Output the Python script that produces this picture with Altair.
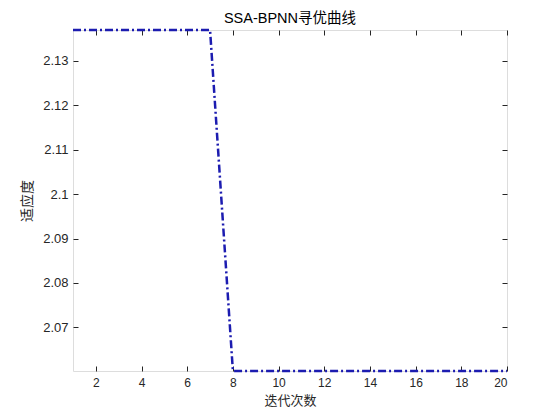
import altair as alt
import pandas as pd

iterations = [1, 2, 3, 4, 5, 6, 7, 8, 9, 10, 11, 12, 13, 14, 15, 16, 17, 18, 19, 20]
fitness = [2.1369, 2.1369, 2.1369, 2.1369, 2.1369, 2.1369, 2.1369,
           2.0602, 2.0602, 2.0602, 2.0602, 2.0602, 2.0602, 2.0602,
           2.0602, 2.0602, 2.0602, 2.0602, 2.0602, 2.0602]
x_ticks = [2, 4, 6, 8, 10, 12, 14, 16, 18, 20]
y_ticks = [2.07, 2.08, 2.09, 2.10, 2.11, 2.12, 2.13]
x_domain = [1, 20]
y_domain = [2.0602, 2.1369]

df = pd.DataFrame({"iter": iterations, "fit": fitness})

W, H = 434, 341
TXT = "#262626"
LATIN = "Liberation Sans, Arial, Noto Sans CJK SC"
CJK = "Noto Sans CJK SC"

xs = alt.Scale(domain=x_domain, nice=False, zero=False)
ys = alt.Scale(domain=y_domain, nice=False, zero=False)

line = alt.Chart(df).mark_line(
    color="#1c1cb0", strokeWidth=2.5, strokeDash=[8, 3, 2, 3]
).encode(
    x=alt.X("iter:Q", scale=xs, axis=alt.Axis(
        orient="bottom", values=x_ticks, tickSize=0, grid=False, domain=False,
        labelFont=LATIN, labelFontSize=12, labelColor=TXT, labelPadding=6,
        title="迭代次数", titleFont=CJK, titleFontSize=13, titleFontWeight="normal",
        titleColor=TXT, titlePadding=6)),
    y=alt.Y("fit:Q", scale=ys, axis=alt.Axis(
        orient="left", values=y_ticks, format="~g", tickSize=0, grid=False, domain=False,
        labelFont=LATIN, labelFontSize=13, labelColor=TXT, labelPadding=5,
        title="适应度", titleFont=CJK, titleFontSize=14, titleFontWeight="normal",
        titleColor=TXT, titlePadding=8)),
)

def tick_layer(xorient, yorient):
    return alt.Chart(df).mark_point(opacity=0).encode(
        x=alt.X("iter:Q", scale=xs, axis=alt.Axis(
            orient=xorient, offset=-H, values=x_ticks, labels=False, domain=False,
            grid=False, ticks=True, tickSize=5, tickWidth=1, tickColor=TXT, title=None)),
        y=alt.Y("fit:Q", scale=ys, axis=alt.Axis(
            orient=yorient, offset=-W, values=y_ticks, labels=False, domain=False,
            grid=False, ticks=True, tickSize=5, tickWidth=1, tickColor=TXT, title=None)),
    )

chart = alt.layer(
    line, tick_layer("top", "right"), tick_layer("bottom", "left")
).resolve_axis(x="independent", y="independent").properties(
    width=W, height=H,
    title=alt.TitleParams("SSA-BPNN寻优曲线", font=LATIN, fontSize=14.5,
                          fontWeight="normal", color="black", offset=7, dy=8, anchor="middle"),
    autosize=alt.AutoSizeParams(type="none"),
    padding={"left": 65, "top": 22, "right": 45, "bottom": 41},
).configure_view(stroke="black", strokeWidth=1).configure(background="white")

chart.save("out.html", embed_options={"renderer": "svg", "actions": False})
